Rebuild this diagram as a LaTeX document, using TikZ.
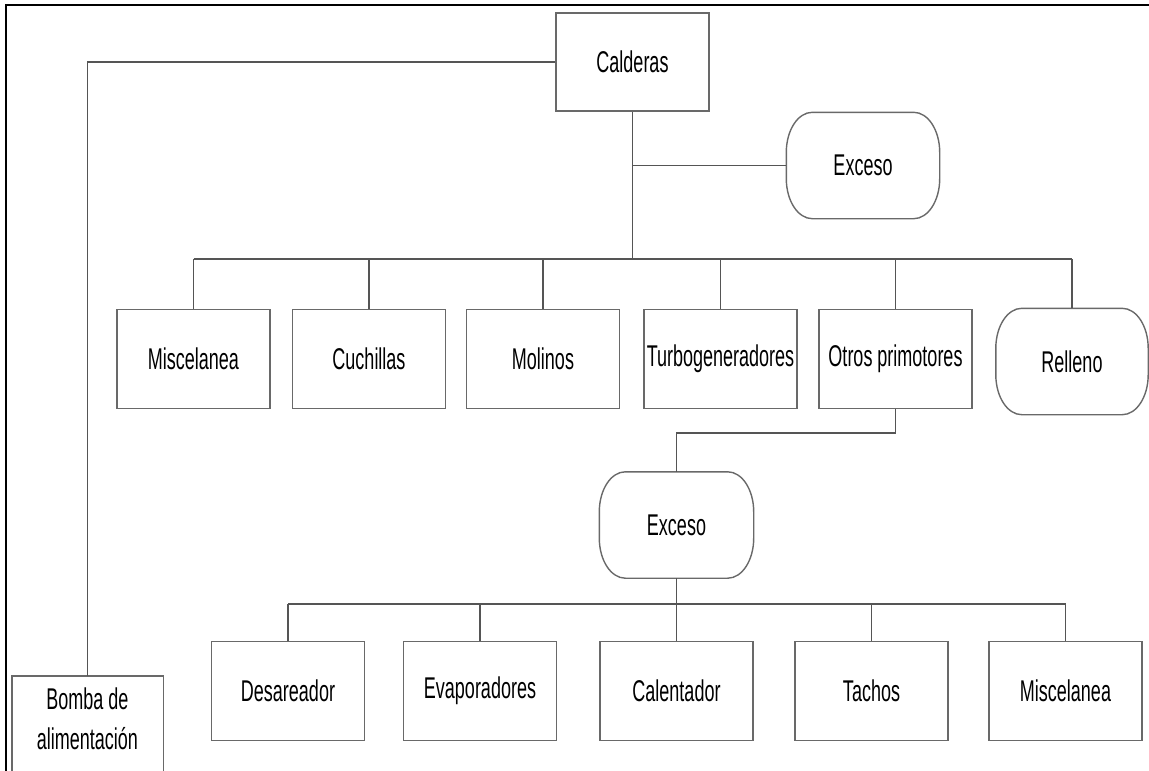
\documentclass[tikz,border=0pt]{standalone}
\usepackage{fontspec}
\newfontfamily\narrowfont[FakeStretch=0.6]{Liberation Sans}
\definecolor{boxgray}{RGB}{105,105,105}
\definecolor{linegray}{RGB}{85,85,85}
\tikzset{
  boxline/.style={draw=boxgray, line width=1.4pt},
  box/.style={boxline, minimum width=153pt, minimum height=99pt, inner sep=0pt,
    font=\narrowfont\fontsize{30}{38}\selectfont},
  termnode/.style={minimum width=153pt, minimum height=106pt, inner sep=0pt,
    font=\narrowfont\fontsize{30}{38}\selectfont},
  conn/.style={draw=linegray, line width=1.2pt},
  frameline/.style={draw=black, line width=2.4pt},
}
\newcommand{\termshape}[1]{%
  \draw[boxline] ([xshift=26pt]#1.north west) -- ([xshift=-26pt]#1.north east)
    arc[start angle=90,end angle=0,x radius=26pt,y radius=40pt]
    -- ([yshift=40pt]#1.south east)
    arc[start angle=0,end angle=-90,x radius=26pt,y radius=40pt]
    -- ([xshift=26pt]#1.south west)
    arc[start angle=270,end angle=180,x radius=26pt,y radius=40pt]
    -- ([yshift=-40pt]#1.north west)
    arc[start angle=180,end angle=90,x radius=26pt,y radius=40pt] -- cycle;}
\begin{document}
\begin{tikzpicture}[x=1pt,y=-1pt]
\useasboundingbox (0,0) rectangle (1149,771);
\clip (0,0) rectangle (1149,771);
\fill[white] (0,0) rectangle (1149,771);
% frame
\coordinate (ftr) at (1149,5);
\coordinate (ftl) at (6,5);
\coordinate (fbl) at (6,771);
\draw[frameline] (ftr) -- (ftl) -- (fbl);

% nodes
\node[box, minimum height=98pt] (cald) at (632.5,62) {Calderas};
\node[termnode] (exc1) at (863,165.5) {Exceso};
\termshape{exc1}

\node[box] (misc1) at (193.5,359) {Miscelanea};
\node[box] (cuch) at (369,359) {Cuchillas};
\node[box] (mol) at (543,359) {Molinos};
\node[box] (turbo) at (720.5,359) {Turbogeneradores};
\node[box] (otros) at (895.5,359) {Otros primotores};
\node[termnode, minimum width=152pt] (rell) at (1072,361.5) {Relleno};
\termshape{rell}

\node[termnode, minimum width=154pt] (exc2) at (676.5,525) {Exceso};
\termshape{exc2}

\node[box] (desa) at (288,691) {Desareador};
\node[box] (evap) at (480,691) {Evaporadores};
\node[box] (calen) at (676.5,691) {Calentador};
\node[box] (tach) at (871.5,691) {Tachos};
\node[box] (misc2) at (1065.5,691) {Miscelanea};

\node[font=\narrowfont\fontsize{30}{40}\selectfont, align=center,
  minimum width=151pt, minimum height=86pt, inner sep=0pt] (bomba) at (87.5,719)
  {Bomba de\\alimentación};
\draw[boxline] ([yshift=-30pt]bomba.south west) -- (bomba.north west)
  -- (bomba.north east) -- ([yshift=-30pt]bomba.south east);

% connectors
\coordinate (bus1) at (632.5,259);
\coordinate (bus2) at (676.5,604);
\coordinate (j2) at (895.5,433);

\draw[conn] (cald.west) -| (bomba.north);
\draw[conn] (cald.south) -- (bus1);
\draw[conn] (cald.south |- exc1.west) -- (exc1.west);
\draw[conn] (misc1.north |- bus1) -- (rell.north |- bus1);
\foreach \n in {misc1,cuch,mol,turbo,otros,rell}
  \draw[conn] (\n.north |- bus1) -- (\n.north);
\draw[conn] (otros.south) -- (j2) -| (exc2.north);
\draw[conn] (exc2.south) -- (bus2);
\draw[conn] (desa.north |- bus2) -- (misc2.north |- bus2);
\foreach \n in {desa,evap,calen,tach,misc2}
  \draw[conn] (\n.north |- bus2) -- (\n.north);
\end{tikzpicture}
\end{document}
